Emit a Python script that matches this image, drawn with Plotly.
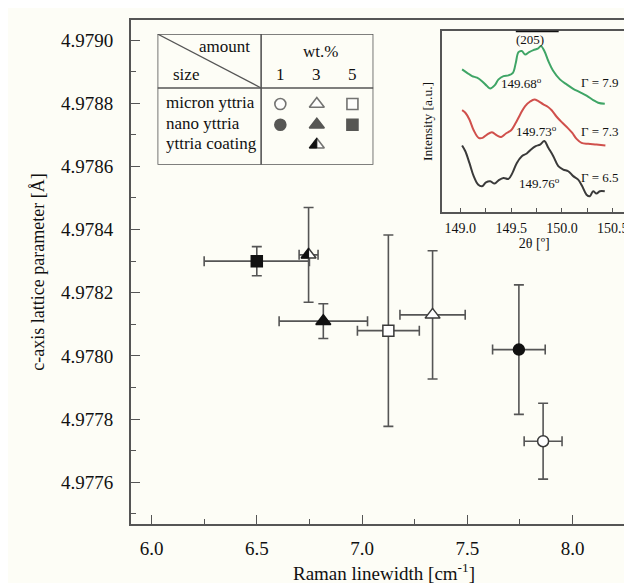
import plotly.graph_objects as go

# ---------------- main data ----------------
raman_x = [7.860, 7.335, 7.125, 7.745, 6.816, 6.500, 6.746]
raman_xerr = [0.090, 0.155, 0.147, 0.125, 0.210, 0.250, 0.045]
lattice_c = [4.97773, 4.97813, 4.97808, 4.97802, 4.97811, 4.97830, 4.97832]
lattice_err = [0.000120, 0.000203, 0.000303, 0.000205, 0.000055, 0.000046, 0.000150]
sample_names = ["micron 1 wt.%", "micron 3 wt.%", "micron 5 wt.%",
                "nano 1 wt.%", "nano 3 wt.%", "nano 5 wt.%", "coating 3 wt.%"]
symbols = ["circle", "triangle-up", "square", "circle", "triangle-up", "square", "triangle-up"]
fills = ["white", "white", "white", "#111111", "#111111", "#111111", "white"]
edges = ["#3a3a3a", "#3a3a3a", "#3a3a3a", "#111111", "#111111", "#111111", "#3a3a3a"]

y_ticks = [4.9776, 4.9778, 4.9780, 4.9782, 4.9784, 4.9786, 4.9788, 4.9790]
x_ticks = [6.0, 6.5, 7.0, 7.5, 8.0]

# ---------------- inset data ----------------
g_x = [149.017, 149.066, 149.115, 149.164, 149.213, 149.262, 149.294, 149.337, 149.376, 149.425,
       149.474, 149.517, 149.546, 149.572, 149.605, 149.637, 149.677, 149.719, 149.762, 149.794,
       149.827, 149.866, 149.915, 149.980, 150.046, 150.111, 150.176, 150.242, 150.308, 150.357, 150.422]
g_y = [0.787, 0.768, 0.750, 0.741, 0.722, 0.695, 0.682, 0.699, 0.732, 0.750,
       0.754, 0.768, 0.824, 0.882, 0.888, 0.869, 0.882, 0.893, 0.901, 0.915,
       0.888, 0.833, 0.778, 0.732, 0.704, 0.680, 0.662, 0.643, 0.618, 0.603, 0.597]
r_x = [149.017, 149.049, 149.089, 149.131, 149.180, 149.219, 149.262, 149.311, 149.360, 149.402,
       149.448, 149.500, 149.546, 149.589, 149.638, 149.687, 149.729, 149.768, 149.817, 149.860,
       149.899, 149.948, 150.004, 150.056, 150.102, 150.144, 150.193, 150.259, 150.340, 150.428]
r_y = [0.562, 0.548, 0.511, 0.452, 0.410, 0.410, 0.428, 0.441, 0.423, 0.415,
       0.434, 0.452, 0.493, 0.539, 0.585, 0.610, 0.621, 0.612, 0.594, 0.581,
       0.562, 0.526, 0.493, 0.465, 0.437, 0.404, 0.382, 0.377, 0.373, 0.368]
k_x = [149.017, 149.049, 149.089, 149.131, 149.174, 149.213, 149.252, 149.294, 149.337, 149.376,
       149.425, 149.474, 149.513, 149.556, 149.605, 149.654, 149.696, 149.742, 149.785, 149.827,
       149.866, 149.915, 149.964, 150.013, 150.062, 150.111, 150.160, 150.200, 150.242, 150.275,
       150.307, 150.340, 150.373, 150.422]
k_y = [0.368, 0.336, 0.272, 0.199, 0.153, 0.143, 0.165, 0.171, 0.158, 0.176,
       0.189, 0.184, 0.217, 0.272, 0.309, 0.324, 0.346, 0.364, 0.373, 0.392,
       0.355, 0.309, 0.254, 0.235, 0.226, 0.199, 0.180, 0.143, 0.097, 0.088,
       0.116, 0.103, 0.116, 0.116]
inset_ticks = [149.0, 149.5, 150.0, 150.5]
peak_labels = ["149.68<sup>o</sup>", "149.73<sup>o</sup>", "149.76<sup>o</sup>"]
gamma_labels = ["Γ = 7.9", "Γ = 7.3", "Γ = 6.5"]

# ---------------- legend table data ----------------
table_rows = ["micron yttria", "nano yttria", "yttria coating"]
table_cols = ["1", "3", "5"]

FONT = "Liberation Serif, Times New Roman, serif"
AX = "#555555"
BG = "#fdfdf6"

fig = go.Figure()


def half_triangle_path(size):
    # left half of plotly's triangle-up marker, pixel offsets (y up)
    r = size / 2.0
    rt = r * 2 / 3 ** 0.5
    return f"M 0 {r} L {-rt:.2f} {-r / 2} L 0 {-r / 2} Z"


# main scatter with error bars
for i in range(len(raman_x)):
    size = 13 if "triangle" in symbols[i] else 11
    fig.add_trace(go.Scatter(
        x=[raman_x[i]], y=[lattice_c[i]], mode="markers", name=sample_names[i],
        marker=dict(symbol=symbols[i], size=size, color=fills[i], line=dict(color=edges[i], width=1.5)),
        error_x=dict(type="data", array=[raman_xerr[i]], color=AX, thickness=1.6, width=5),
        error_y=dict(type="data", array=[lattice_err[i]], color=AX, thickness=1.6, width=5),
        showlegend=False, xaxis="x", yaxis="y"))

# half-filled (coating) triangle in the main plot
fig.add_shape(type="path", xref="x", yref="y", xsizemode="pixel", ysizemode="pixel",
              xanchor=raman_x[6], yanchor=lattice_c[6], path=half_triangle_path(13),
              fillcolor="#111111", line=dict(color="#111111", width=1), layer="above")

# inset curves
for xs, ys, col in [(g_x, g_y, "#3fa566"), (r_x, r_y, "#d0504c"), (k_x, k_y, "#3a3a3a")]:
    fig.add_trace(go.Scatter(x=xs, y=ys, mode="lines", line=dict(color=col, width=2, shape="spline"),
                             showlegend=False, xaxis="x2", yaxis="y2"))

# legend table markers
col_pos = [0.569, 0.738, 0.903]
row_pos = [0.464, 0.306, 0.153]
leg_x, leg_y, leg_sym, leg_fill, leg_size, leg_edge = [], [], [], [], [], []
for r in range(2):
    for c in range(3):
        idx = [[0, 1, 2], [3, 4, 5]][r][c]
        leg_x.append(col_pos[c]); leg_y.append(row_pos[r])
        leg_sym.append(symbols[idx]); leg_fill.append(fills[idx]); leg_edge.append(edges[idx])
        leg_size.append(13 if "triangle" in symbols[idx] else 11)
leg_x.append(col_pos[1]); leg_y.append(row_pos[2]); leg_sym.append("triangle-up")
leg_fill.append("white"); leg_size.append(13); leg_edge.append(edges[6])
fig.add_trace(go.Scatter(x=leg_x, y=leg_y, mode="markers",
                         marker=dict(symbol=leg_sym, size=leg_size, color=leg_fill,
                                     line=dict(color=leg_edge, width=1.6)),
                         showlegend=False, xaxis="x3", yaxis="y3"))
fig.add_shape(type="path", xref="x3", yref="y3", xsizemode="pixel", ysizemode="pixel",
              xanchor=col_pos[1], yanchor=row_pos[2], path=half_triangle_path(13),
              fillcolor="#111111", line=dict(color="#111111", width=1), layer="above")

# ---------------- layout ----------------
fig.update_layout(
    width=632, height=583,
    margin=dict(l=123, r=1, t=12, b=67),
    paper_bgcolor=BG, plot_bgcolor=BG,
    font=dict(family=FONT, color="#111111"),
    showlegend=False,
    xaxis=dict(domain=[0, 1], range=[5.9025, 8.306], tickvals=x_ticks, tickformat=".1f",
               ticks="inside", ticklen=9, tickwidth=1.3, tickcolor=AX,
               minor=dict(ticks="inside", dtick=0.25, ticklen=5, tickcolor=AX, tickwidth=1.3),
               showline=True, linecolor=AX, linewidth=2, mirror=True, showgrid=False, zeroline=False,
               tickfont=dict(size=19, family=FONT, color="#111"), ticklabelstandoff=6,
               title=dict(text="Raman linewidth [cm<sup>-1</sup>]", font=dict(size=19, family=FONT),
                          standoff=9)),
    yaxis=dict(domain=[0, 1], range=[4.977468, 4.9790633], tickvals=y_ticks, tickformat=".4f",
               ticks="inside", ticklen=9, tickwidth=1.3, tickcolor=AX,
               minor=dict(ticks="inside", dtick=0.0001, ticklen=5, tickcolor=AX, tickwidth=1.3),
               showline=True, linecolor=AX, linewidth=2, mirror=True, showgrid=False, zeroline=False,
               tickfont=dict(size=19, family=FONT, color="#111"), ticklabelstandoff=12,
               title=dict(text="c-axis lattice parameter [Å]", font=dict(size=18, family=FONT),
                          standoff=12)),
    xaxis2=dict(domain=[0.6148, 0.9789], anchor="y2", range=[148.82, 150.634], tickvals=inset_ticks,
                tickformat=".1f", ticks="inside", ticklen=4, tickcolor=AX, tickwidth=1.2,
                minor=dict(ticks="inside", dtick=0.25, ticklen=4, tickcolor=AX, tickwidth=1.2),
                showline=True, linecolor=AX, linewidth=1.8, mirror=True, showgrid=False, zeroline=False,
                tickfont=dict(size=14, family=FONT, color="#111"), ticklabelstandoff=2,
                title=dict(text="2θ [º]", font=dict(size=14, family=FONT), standoff=2)),
    yaxis2=dict(domain=[0.6185, 0.9788], anchor="x2", range=[0, 1], showticklabels=False, ticks="",
                tickvals=[],
                showline=True, linecolor=AX, linewidth=1.8, mirror=True, showgrid=False, zeroline=False,
                title=dict(text="Intensity [a.u.]", font=dict(size=13.5, family=FONT), standoff=4)),
    xaxis3=dict(domain=[0.0524, 0.479], anchor="y3", range=[0, 1], visible=False, fixedrange=True),
    yaxis3=dict(domain=[0.7129, 0.9722], anchor="x3", range=[0, 1], visible=False, fixedrange=True),
)

# table lines
tl = dict(color=AX, width=1.6)
fig.add_shape(type="rect", xref="x3", yref="y3", x0=0, x1=1, y0=0, y1=1, line=tl, layer="above")
fig.add_shape(type="line", xref="x3", yref="y3", x0=0, x1=1, y0=0.587, y1=0.587, line=tl)
fig.add_shape(type="line", xref="x3", yref="y3", x0=0.48, x1=0.48, y0=0, y1=1, line=tl)
fig.add_shape(type="line", xref="x3", yref="y3", x0=0, x1=0.48, y0=1, y1=0.587, line=dict(color=AX, width=1.3))

tf = dict(family=FONT, size=17, color="#111")
fig.add_annotation(x=0.311, y=0.906, xref="x3", yref="y3", text="amount", showarrow=False, font=tf)
fig.add_annotation(x=0.134, y=0.694, xref="x3", yref="y3", text="size", showarrow=False, font=tf)
fig.add_annotation(x=0.757, y=0.868, xref="x3", yref="y3", text="wt.%", showarrow=False, font=tf)
for c in range(3):
    fig.add_annotation(x=col_pos[c], y=0.694, xref="x3", yref="y3", text=table_cols[c],
                       showarrow=False, font=tf)
for r in range(3):
    fig.add_annotation(x=0.03, y=row_pos[r] + 0.012, xref="x3", yref="y3", text=table_rows[r],
                       showarrow=False, xanchor="left", font=tf)

# inset annotations
inf = dict(family=FONT, size=13, color="#111")
fig.add_annotation(x=149.686, y=0.952, xref="x2", yref="y2", text="(205)", showarrow=False,
                   font=dict(family=FONT, size=13, color="#111"))
fig.add_shape(type="line", xref="x2", yref="y2", x0=149.546, x1=149.968, y0=1.0, y1=1.0,
              line=dict(color="#111", width=3))
peak_pos = [(149.605, 0.713), (149.752, 0.447), (149.784, 0.162)]
gamma_pos = [(150.373, 0.713), (150.373, 0.447), (150.373, 0.189)]
for i in range(3):
    fig.add_annotation(x=peak_pos[i][0], y=peak_pos[i][1], xref="x2", yref="y2", text=peak_labels[i],
                       showarrow=False, font=inf)
    fig.add_annotation(x=gamma_pos[i][0], y=gamma_pos[i][1], xref="x2", yref="y2", text=gamma_labels[i],
                       showarrow=False, font=inf)

fig.write_html("out.html")
